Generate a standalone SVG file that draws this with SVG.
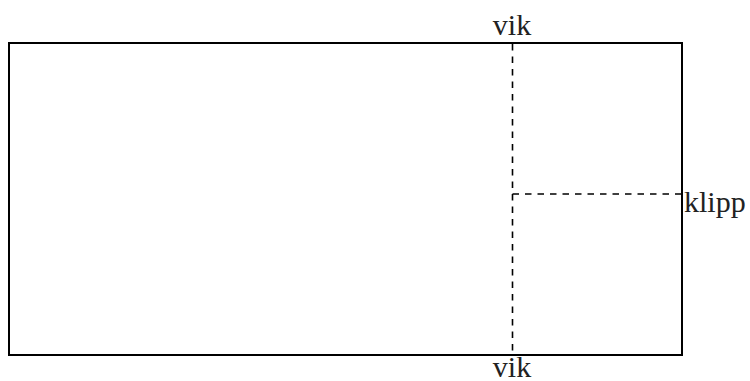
<svg xmlns="http://www.w3.org/2000/svg" width="750" height="381" viewBox="0 0 750 381">
<style>
.t{font-family:"Liberation Serif","Times New Roman",serif;font-size:30px;fill:#222}
.d{stroke:#000;stroke-width:1.6;stroke-dasharray:6.5 6;fill:none}
</style>
<rect width="750" height="381" fill="#fff"/>
<g id="sheet"><rect x="9" y="43" width="673" height="312" fill="none" stroke="#000" stroke-width="2"/></g>
<g id="connectors">
<line class="d" x1="512.5" y1="44" x2="512.5" y2="354"/>
<line class="d" x1="512.5" y1="194" x2="681" y2="194"/>
</g>
<g id="labels">
<text class="t" x="512" y="35" text-anchor="middle">vik</text>
<text class="t" x="512" y="377" text-anchor="middle">vik</text>
<text class="t" x="684" y="212">klipp</text>
</g>
</svg>
